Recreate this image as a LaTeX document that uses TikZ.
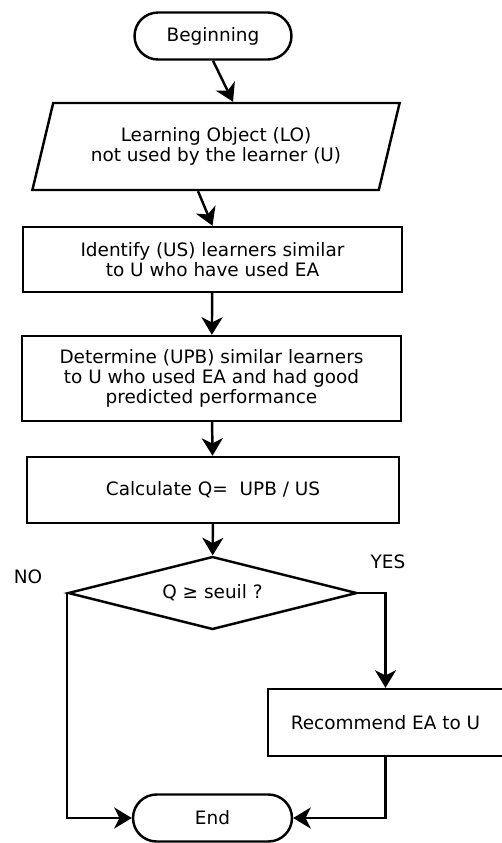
\documentclass[tikz,border=0pt]{standalone}
\usepackage{fontspec}
\setmainfont{DejaVu Sans}
\usetikzlibrary{shapes.geometric,shapes.misc,arrows.meta}

\begin{document}
\begin{tikzpicture}[x=0.02cm,y=-0.02cm,line width=1.4pt,>={Stealth[length=10pt,width=12pt,inset=3pt]},
    every node/.style={font=\fontsize{10.5}{11.3}\selectfont,align=center,inner sep=0pt},
    terminal/.style={draw,rounded rectangle,minimum width=#1,minimum height=0.94cm},
    iobox/.style={draw,trapezium,trapezium left angle=67,trapezium right angle=113,trapezium stretches=true,minimum width=7.36cm,minimum height=1.74cm},
    procbox/.style={draw,rectangle,minimum width=7.58cm,minimum height=#1},
    testbox/.style={draw,diamond,aspect=4,minimum width=5.78cm,minimum height=1.46cm}]

    \useasboundingbox (0,0) rectangle (502,843);

    % START
    \node[terminal=3.14cm] (begin) at (213,36) {Beginning};
    \node[iobox] (lo) at (216,146.5) {Learning Object (LO)\\not used by the learner (U)};

    % STEPS
    \node[procbox=1.3cm] (us) at (212.5,259.5) {Identify (US) learners similar\\to U who have used EA};
    \node[procbox=1.7cm] (upb) at (211.5,378.5) {Determine (UPB) similar learners\\to U who used EA and had good\\predicted performance};
    \node[procbox=1.32cm,minimum width=7.44cm] (calc) at (213,490) {Calculate Q=\ \ UPB / US};

    % TEST
    \node[testbox] (test) at (212.5,593) {Q ≥ seuil ?};
    \node (no) at (28,577) {NO};
    \node (yes) at (388,562) {YES};
    \node[procbox=1.34cm,minimum width=4.7cm] (rec) at (385.5,722.5) {Recommend EA to U};

    % END
    \node[terminal=3.18cm] (end) at (212.5,818) {End};

    \draw[->] (begin.south) to ([xshift=0.34cm]lo.north);
    \draw[->] ([xshift=-0.36cm]lo.south) to (us.north);
    \draw[->] (us) to (upb);
    \draw[->] (upb) to (calc);
    \draw[->] (calc) to (test);
    \draw[->] (test.east) -| (rec.north);
    \draw[->] (test.west) |- (end.west);
    \draw[->] (rec.south) |- (end.east);

\end{tikzpicture}
\end{document}
